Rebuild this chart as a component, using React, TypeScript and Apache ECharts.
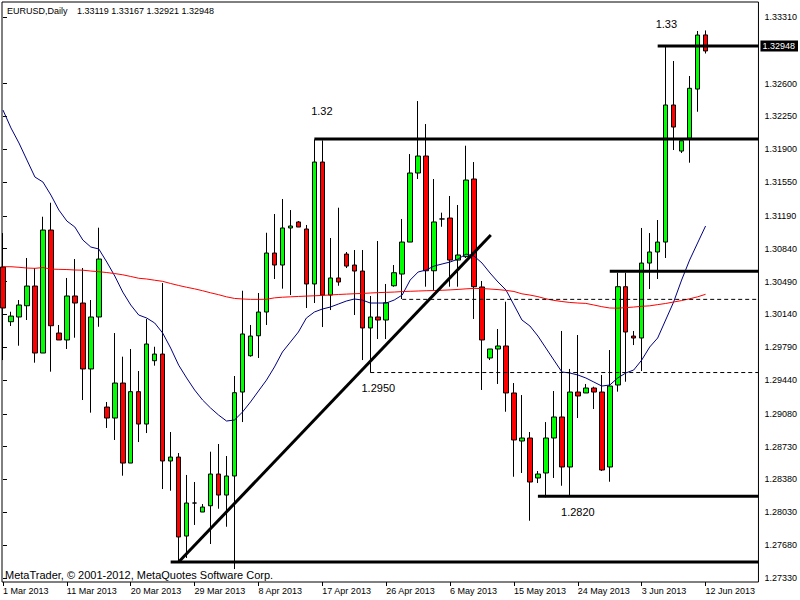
import React, { useEffect, useRef } from "react";
import * as echarts from "echarts";

// ---- data ----
const tickIndex = [0, 8, 16, 24, 32, 40, 48, 56, 64, 72, 80, 88];
const dateLabels = [
  "1 Mar 2013", "11 Mar 2013", "20 Mar 2013", "29 Mar 2013", "8 Apr 2013", "17 Apr 2013",
  "26 Apr 2013", "6 May 2013", "15 May 2013", "24 May 2013", "3 Jun 2013", "12 Jun 2013",
];
const priceTicks = [
  1.3331, 1.326, 1.3225, 1.319, 1.3155, 1.3119, 1.3084, 1.3049, 1.3014,
  1.2979, 1.2944, 1.2908, 1.2873, 1.2838, 1.2803, 1.2768, 1.2733,
];

const opens = [
  1.30645, 1.30062, 1.30112, 1.30232, 1.30442, 1.29728, 1.31039, 1.29941, 1.29867, 1.30336,
  1.30261, 1.29558, 1.30112, 1.29152, 1.29035, 1.29408, 1.28555, 1.29316, 1.28971, 1.29646,
  1.29717, 1.28577, 1.28619, 1.27777, 1.28129, 1.28033, 1.281, 1.28438, 1.28214, 1.28417,
  1.29312, 1.29699, 1.29912, 1.30165, 1.30794, 1.30666, 1.31061, 1.31125, 1.3105, 1.30464,
  1.31764, 1.30346, 1.30528, 1.30783, 1.30666, 1.30602, 1.29995, 1.30112, 1.3008, 1.30445,
  1.3057, 1.30911, 1.31647, 1.31828, 1.30605, 1.31157, 1.31167, 1.30719, 1.30755, 1.31583,
  1.30432, 1.29675, 1.29771, 1.29803, 1.29302, 1.2879, 1.28822, 1.28396, 1.28449, 1.28822,
  1.29046, 1.28513, 1.29312, 1.29302, 1.29355, 1.29312, 1.28513, 1.29387, 1.30435, 1.29909,
  1.29888, 1.30687, 1.30805, 1.30911, 1.32372, 1.31881, 1.32017, 1.32542, 1.33119,
];
const highs = [
  1.31007, 1.30168, 1.30293, 1.30741, 1.30634, 1.31181, 1.3133, 1.30027, 1.30528, 1.3073,
  1.30634, 1.30293, 1.31064, 1.29206, 1.29941, 1.29689, 1.29771, 1.29536, 1.30091, 1.29795,
  1.30474, 1.28886, 1.28662, 1.28428, 1.28353, 1.28118, 1.28676, 1.28758, 1.2863, 1.29483,
  1.30392, 1.30027, 1.30368, 1.3101, 1.3121, 1.3137, 1.31252, 1.31135, 1.31093, 1.32005,
  1.31995, 1.30954, 1.31277, 1.30805, 1.30826, 1.30826, 1.30336, 1.30922, 1.30464, 1.30666,
  1.31157, 1.31849, 1.32414, 1.32169, 1.31583, 1.31224, 1.31402, 1.31306, 1.31938, 1.31764,
  1.30496, 1.29771, 1.29984, 1.30275, 1.29408, 1.2928, 1.28886, 1.2847, 1.28992, 1.29323,
  1.29963, 1.29558, 1.2992, 1.29398, 1.29369, 1.29494, 1.2976, 1.30584, 1.30584, 1.29963,
  1.31061, 1.31007, 1.31146, 1.33, 1.32841, 1.31991, 1.32681, 1.33161, 1.33167,
];
const lows = [
  1.29653, 1.30016, 1.29806, 1.3008, 1.29625, 1.29728, 1.29529, 1.29867, 1.29771, 1.29891,
  1.29227, 1.29092, 1.30008, 1.28929, 1.28801, 1.2842, 1.28555, 1.28779, 1.28875, 1.29593,
  1.28278, 1.2826, 1.275, 1.27543, 1.27895, 1.28033, 1.27692, 1.28068, 1.27876, 1.27425,
  1.28992, 1.29689, 1.29675, 1.30027, 1.30517, 1.30414, 1.30346, 1.31071, 1.30208, 1.30261,
  1.30005, 1.30186, 1.30445, 1.30634, 1.30133, 1.29653, 1.29522, 1.29877, 1.29877, 1.30435,
  1.30304, 1.30911, 1.31583, 1.30435, 1.304, 1.31074, 1.30435, 1.30435, 1.30741, 1.30091,
  1.29334, 1.29653, 1.29398, 1.29102, 1.28409, 1.28449, 1.2794, 1.28342, 1.2819, 1.28396,
  1.28313, 1.2821, 1.29035, 1.29302, 1.29131, 1.2847, 1.28356, 1.29316, 1.29422, 1.29813,
  1.29536, 1.3041, 1.30517, 1.30741, 1.31892, 1.3186, 1.31757, 1.323, 1.32921,
];
const closes = [
  1.30208, 1.30122, 1.3024, 1.30442, 1.29728, 1.31039, 1.30019, 1.29867, 1.30336, 1.30261,
  1.29558, 1.30112, 1.3073, 1.29035, 1.29408, 1.28555, 1.29316, 1.28971, 1.29824, 1.29717,
  1.28577, 1.28619, 1.27767, 1.28129, 1.28129, 1.28086, 1.28438, 1.28214, 1.28417, 1.29305,
  1.29931, 1.29909, 1.30165, 1.30794, 1.30666, 1.31061, 1.31082, 1.31071, 1.30464, 1.31764,
  1.30346, 1.30528, 1.30485, 1.30655, 1.30602, 1.29995, 1.30112, 1.3008, 1.30264, 1.30584,
  1.30911, 1.31647, 1.31828, 1.30605, 1.31125, 1.31157, 1.30719, 1.30773, 1.31572, 1.30435,
  1.29867, 1.29771, 1.29803, 1.29302, 1.28801, 1.28822, 1.28353, 1.28438, 1.28822, 1.29046,
  1.28513, 1.29312, 1.2927, 1.29355, 1.29312, 1.28481, 1.29376, 1.30435, 1.29952, 1.29888,
  1.30687, 1.30805, 1.30911, 1.32372, 1.32137, 1.31991, 1.3255, 1.33118, 1.32948,
];
const maFast = [
  1.32318, 1.32127, 1.31967, 1.31785, 1.31604, 1.31551, 1.31412, 1.31252, 1.31135, 1.31071,
  1.30933, 1.30858, 1.30837, 1.30698, 1.30549, 1.30378, 1.3024, 1.30133, 1.30101, 1.30048,
  1.29941, 1.29781, 1.29599, 1.29462, 1.29334, 1.29227, 1.29142, 1.29067, 1.29003, 1.29014,
  1.29099, 1.29206, 1.29323, 1.29439, 1.29579, 1.29739, 1.29845, 1.29952, 1.30101, 1.30165,
  1.30197, 1.30218, 1.3025, 1.30282, 1.30304, 1.30293, 1.30261, 1.30261, 1.30261, 1.30293,
  1.30346, 1.30506, 1.30592, 1.30613, 1.30655, 1.30677, 1.30698, 1.3073, 1.30783, 1.30762,
  1.30687, 1.30581, 1.30485, 1.304, 1.3024, 1.3008, 1.30016, 1.29909, 1.29781, 1.29653,
  1.29526, 1.29515, 1.29494, 1.29462, 1.29419, 1.29376, 1.29387, 1.29462, 1.29515, 1.29547,
  1.29653, 1.29792, 1.29888, 1.3008, 1.30272, 1.30506, 1.30719, 1.30901, 1.31082,
];
const maSlow = [
  1.30648, 1.30648, 1.30642, 1.30634, 1.30631, 1.30639, 1.30623, 1.3062, 1.30618, 1.30613,
  1.30611, 1.30602, 1.30595, 1.30586, 1.30575, 1.30562, 1.30544, 1.30525, 1.30517, 1.30504,
  1.30492, 1.30469, 1.30448, 1.30429, 1.30412, 1.30392, 1.3037, 1.3035, 1.30327, 1.3031,
  1.30304, 1.303, 1.303, 1.30301, 1.30316, 1.30323, 1.30327, 1.30331, 1.30335, 1.30338,
  1.30342, 1.30347, 1.30352, 1.30356, 1.3036, 1.30363, 1.30368, 1.30372, 1.30375, 1.30378,
  1.30383, 1.30386, 1.30389, 1.30392, 1.30394, 1.30397, 1.30401, 1.30406, 1.30412, 1.30417,
  1.30415, 1.3041, 1.30404, 1.30396, 1.30384, 1.30359, 1.30346, 1.30329, 1.30306, 1.30289,
  1.30277, 1.30267, 1.30261, 1.30257, 1.3024, 1.30222, 1.30208, 1.30206, 1.30212, 1.30218,
  1.30226, 1.30231, 1.30244, 1.30256, 1.30272, 1.30287, 1.30306, 1.30327, 1.30354,
];

// horizontal drawn levels: start bar index, price, dashed?
const levelStart = [39, 82, 76, 67, 21, 50, 46];
const levelPrice = [1.3201, 1.33, 1.306, 1.282, 1.275, 1.303, 1.2952];
const levelDashed = [false, false, false, false, false, true, true];

// diagonal trend line anchors (bar index, price)
const trendX = [22, 61.1];
const trendY = [1.275, 1.30986];

// text annotations (bar index, price, text)
const noteX = [38.6, 81.75, 44.9, 69.9];
const noteY = [1.3231, 1.33235, 1.29355, 1.28033];
const noteText = ["1.32", "1.33", "1.2950", "1.2820"];

const lastPrice = 1.32948;
const headerSymbol = "EURUSD,Daily";
const headerValues = "1.33119 1.33167 1.32921 1.32948";
const copyright = "MetaTrader, \u00a9 2001-2012, MetaQuotes Software Corp.";

const FONT = "'Liberation Sans', Arial, sans-serif";

export default function App() {
  const ref = useRef<HTMLDivElement>(null);

  useEffect(() => {
    if (!ref.current) return;
    const chart = echarts.init(ref.current, undefined, { renderer: "svg" });

    const xMin = -0.125;
    const xMax = 94.625;
    const yMin = 1.27287;
    const yMax = 1.3347;

    const candles = opens.map((o, i) => [i, o, closes[i], lows[i], highs[i]]);

    const levelSeries = levelPrice.map((p, k) => ({
      type: "line",
      data: [
        [levelStart[k], p],
        [xMax, p],
      ],
      symbol: "none",
      silent: true,
      z: 5,
      lineStyle: levelDashed[k]
        ? { color: "#000", width: 1, type: [4, 3] }
        : { color: "#000", width: 3 },
    }));

    const baseGraphic: any[] = [
      {
        id: "hdr1",
        type: "text",
        x: 7,
        y: 11,
        style: { text: headerSymbol, fill: "#000", fontSize: 9, fontFamily: FONT, verticalAlign: "middle" },
        z: 100,
      },
      {
        id: "hdr2",
        type: "text",
        x: 77,
        y: 11,
        style: { text: headerValues, fill: "#000", fontSize: 9, fontFamily: FONT, verticalAlign: "middle" },
        z: 100,
      },
      {
        id: "copy",
        type: "text",
        x: 5,
        y: 575,
        style: { text: copyright, fill: "#000", fontSize: 11, fontFamily: FONT, verticalAlign: "middle" },
        z: 100,
      },
    ];

    chart.setOption({
      animation: false,
      backgroundColor: "#fff",
      grid: {
        left: 2,
        right: 40,
        top: 2,
        bottom: 18,
        show: true,
        borderColor: "#000",
        borderWidth: 1,
        backgroundColor: "#fff",
      },
      xAxis: {
        type: "value",
        min: xMin,
        max: xMax,
        axisLine: { show: false },
        splitLine: { show: false },
        axisTick: {
          show: true,
          customValues: tickIndex,
          length: 4,
          lineStyle: { color: "#000" },
        },
        axisLabel: {
          customValues: tickIndex,
          formatter: (v: number) => {
            const k = tickIndex.indexOf(Math.round(v));
            return k >= 0 ? dateLabels[k] : "";
          },
          align: "left",
          margin: 4,
          fontSize: 9,
          color: "#000",
          fontFamily: FONT,
          hideOverlap: false,
        },
      },
      yAxis: {
        type: "value",
        position: "right",
        min: yMin,
        max: yMax,
        scale: true,
        axisLine: { show: false },
        splitLine: { show: false },
        axisTick: {
          show: true,
          customValues: priceTicks,
          length: 4,
          lineStyle: { color: "#000" },
        },
        axisLabel: {
          customValues: priceTicks,
          formatter: (v: number) => v.toFixed(5),
          margin: 6,
          fontSize: 9,
          color: "#000",
          fontFamily: FONT,
        },
      },
      graphic: baseGraphic,
      series: [
        {
          type: "candlestick",
          data: candles,
          encode: { x: 0, y: [1, 2, 3, 4] },
          barWidth: 5,
          clip: true,
          z: 2,
          itemStyle: {
            color: "#00FF00",
            color0: "#FF0000",
            borderColor: "#000",
            borderColor0: "#000",
            borderColorDoji: "#000",
            borderWidth: 1,
          },
          markLine: {
            silent: true,
            symbol: ["none", "none"],
            lineStyle: { color: "transparent", width: 0 },
            data: [{ yAxis: lastPrice }],
            label: {
              show: true,
              position: "end",
              distance: 2,
              formatter: lastPrice.toFixed(5),
              color: "#fff",
              backgroundColor: "#000",
              padding: [1, 3, 1, 2],
              fontSize: 9,
              fontFamily: FONT,
            },
          },
        },
        {
          type: "line",
          data: maFast.map((v, i) => [i, v]),
          symbol: "none",
          silent: true,
          z: 3,
          lineStyle: { color: "#000080", width: 1 },
        },
        {
          type: "line",
          data: maSlow.map((v, i) => [i, v]),
          symbol: "none",
          silent: true,
          z: 3,
          lineStyle: { color: "#FF0000", width: 1 },
        },
        ...levelSeries,
        {
          type: "line",
          data: trendX.map((x, k) => [x, trendY[k]]),
          symbol: "none",
          silent: true,
          z: 5,
          lineStyle: { color: "#000", width: 3 },
        },
      ],
    });

    // annotation texts placed through the chart's own coordinate conversion
    const notes = noteText.map((t, k) => {
      const pt = chart.convertToPixel({ gridIndex: 0 }, [noteX[k], noteY[k]]) as number[];
      return {
        id: "note" + k,
        type: "text",
        x: pt[0],
        y: pt[1],
        z: 100,
        style: {
          text: t,
          fill: "#000",
          fontSize: 11,
          fontFamily: FONT,
          verticalAlign: "middle",
          align: "left",
        },
      };
    });
    chart.setOption({ graphic: [...baseGraphic, ...notes] });

    return () => chart.dispose();
  }, []);

  return (
    <div
      ref={ref}
      style={{ position: "fixed", left: 0, top: 0, width: 800, height: 600, background: "#fff" }}
    />
  );
}
